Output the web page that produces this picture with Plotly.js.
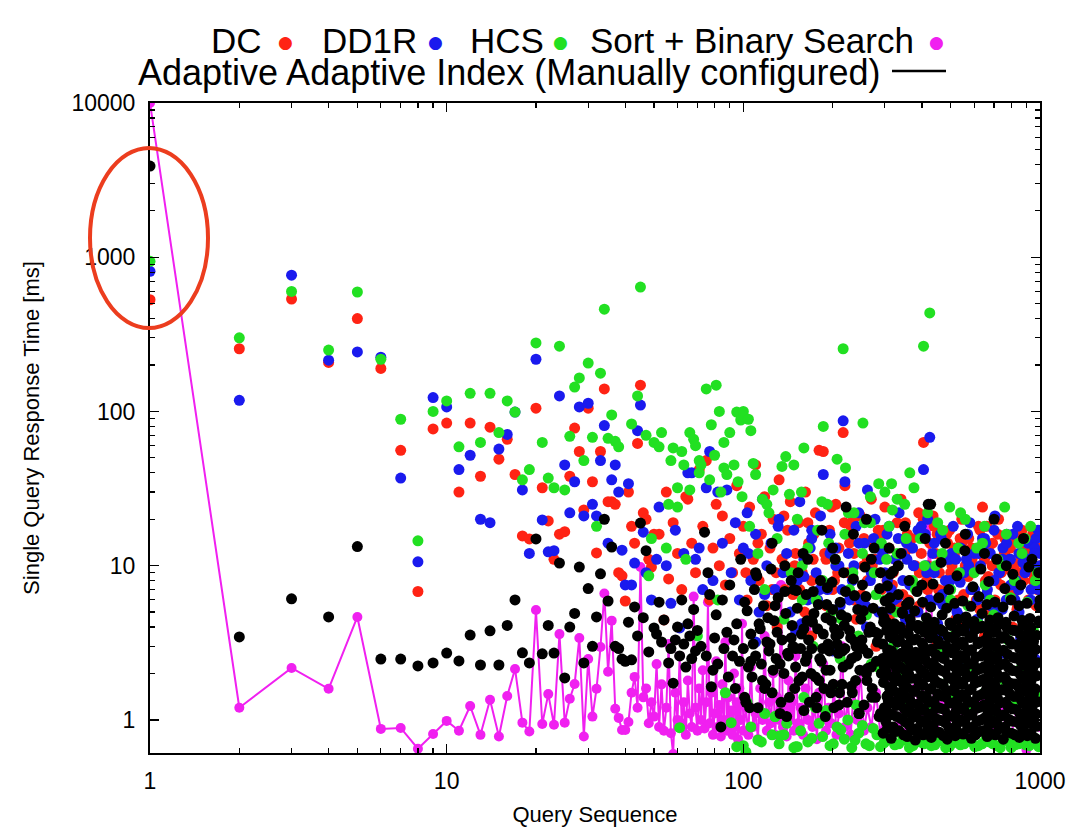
<!DOCTYPE html>
<html>
<head>
<meta charset="utf-8">
<script src="https://cdn.plot.ly/plotly-3.0.1.min.js"></script>
<style>html,body{margin:0;padding:0;background:#fff;}#chart{width:1069px;height:827px;}</style>
</head>
<body>
<div id="chart"></div>
<script>
// ---------- Tick labels ----------
const xTickVals = [1, 10, 100, 1000];
const xTickText = ['1', '10', '100', '1000'];
const yTickVals = [1, 10, 100, 1000, 10000];
const yTickText = ['1', '10', '100', '1000', '10000'];
const xMinorVals = [2,3,4,5,6,7,8,9,20,30,40,50,60,70,80,90,200,300,400,500,600,700,800,900];
const yMinorVals = [2,3,4,5,6,7,8,9,20,30,40,50,60,70,80,90,200,300,400,500,600,700,800,900,2000,3000,4000,5000,6000,7000,8000,9000];

// ---------- Series names ----------
const seriesNames = ['DC', 'DD1R', 'HCS', 'Sort + Binary Search', 'Adaptive Adaptive Index (Manually configured)'];

// ---------- Sort + Binary Search (magenta) ----------
const sortQ1 = [1,2,3,4,5,6,7,8,9,10,11,12,13,14,15,16,17,18,19,20,21,22,23,24,25,26,27,28,29,30,31,32,33,34,35,36,37,38,39,40,41,42,43,44,45,
  46,47,48,49,50,51,52,53,54,55,56,57,58,59,60,61,62,63,64,65,66,67,68,69,70,71,72,73,74,75,76,77,78,79,80,81,82,83,84,85,86,87,88,89,90,91,92,93,94,95,96,97,98,99,100];
const sortV1 = [10000,1.2,2.17,1.59,4.65,0.874,0.887,0.65,0.81,0.985,0.85,1.23,0.8,1.35,0.78,1.43,2.14,0.96,0.84,5.16,0.94,1.47,0.93,3.6,0.96,1.37,1.71,3.4,0.78,2.48,1.05,1.59,2.97,6.6,2.05,4.4,1.18,1.03,0.86,0.86,0.97,1.5,1.9,1.2,9.8,
  1.4,1.6,0.95,1.3,1.05,2.3,0.9,1.7,0.85,1.2,3.1,0.82,0.6,1.5,1.0,2.6,0.95,1.3,0.8,1.8,1.1,0.9,6.3,1.2,0.85,1.6,1.0,2.1,0.88,1.3,5.8,0.95,1.5,0.8,1.1,2.4,0.9,1.25,0.78,1.7,1.0,3.2,0.85,1.4,0.95,1.15,0.8,2.0,0.9,1.3,0.75,1.6,1.0,4.2,0.85];
const sortQ2 = [102,104,106,108,110,112,114,116,118,120,122,124,126,128,130,132,134,136,138,140,142,144,146,148,150,153,156,159,162,165,168,171,174,177,180,183,186,190,194,198,202,206,210,215,220,225,230,236,242,248,255,262,270,280,290,300,315,330,345,360,380,400,425,440,460,490,520,550,590,630,680,730,790,850,900,950,1000];
const sortV2 = [1.2,0.8,2.2,0.9,1.1,0.75,1.6,1.0,3.5,0.85,1.3,0.95,2.0,0.8,1.4,1.0,7.5,0.9,1.2,0.78,1.8,1.0,1.3,0.85,2.6,0.95,1.2,0.8,1.6,1.0,4.5,0.9,1.3,0.75,1.5,1.0,2.3,0.85,1.2,0.95,1.7,0.8,1.1,3.0,0.9,1.3,0.8,1.6,1.0,2.1,0.85,1.2,0.9,1.5,0.8,1.2,2.4,0.9,1.3,0.85,1.6,1.0,18,0.9,1.3,0.8,1.7,1.0,0.85,1.4,0.9,1.2,0.8,1.1,0.64,1.0,0.9];

// ---------- DC (red) ----------
const dcQ1 = [1,2,3,4,5,6,7,8,9,10,11,12,13,14,15,16,17,18,19,20,21,22,23,24,25,26,27,28,29,30,31,32,33,34,35,36,37,38,39,40,41,42,43,44,45,46,47,48,49,50];
const dcV1 = [530,255,535,208,400,190,56,6.8,77,84,30,84,38,79,49,66,39,15.6,14.9,105,32,19.5,11,16,16.6,38,78,55,23,105,35,12.1,55,140,26,26,25,9,8.6,5.9,30,18,14,62,148,22,20,11,9.8,16];
const dcQ2 = [52,54,55,56,58,60,62,64,65,67,69,71,73,75,77,79,81,83,85,87,90,92,95,97,100,103,105,108,110,113,115,118,120,123,126,129,132,135,138,141,144,147,150,154,158,162,166,170,175,180,186,190,195,200,205,210,217,220,225,230,236,242,248,255,262,270,278,285,292,300,310,320,330,340,350,360,370,380,390,405,415,425,440,455,470,485,500,515,530,545,560,575,590,605,620,640,655,670,690,705,720,740,760,780,800,820,840,860,880,900,920,940,960,980,1000];
const dcV2 = [16,4.45,30,8.2,19,12,7,28,27,14,9,42,18,48,6,13,25,10,21,7.5,15,9,33,12,18,6,24,11,45,8,16,28,5.5,13,20,9,36,11,7,17,26,6.5,12,19,9,30,14,8,22,56,55,11,17,7,25,13,73,33,9,18,12,6,21,15,8,27,11,17,7,24,13,9,19,27,12,6,15,10,22,63,8,14,18,7,11,16,9,13,6,20,10,15,7,12,18,24,8,13,10,6,16,9,12,7,14,10,5.5,11,8,13,6,9,12,7,10];
const dcQ3 = [130,170,240,280,350,450,550,650,750,850,950,305,325,345,368,392,418,445,474,505,538,573,610,650,692,737,785,836,890,948,995,312,336,357,380,404,430,458,488,520,553,590,628,668,712,758,808,860,915,970];
const dcV3 = [4,3.5,4.5,3,3.8,3.2,4,3.5,4.2,3,3.6,8,11,6.5,13,9,7,12,5.8,10,15,8.5,6,11,14,7.5,9.5,5.2,10,8,13,4.8,5.5,16,5,20,4.2,9,14,4.5,6.5,11,17,5,8,12,4,15,6,5.5];
const dcQ4 = [102,112,125,137,149,161,173,188,203,219,236,254,272,291];
const dcV4 = [9,14,7,21,10,5,16,12,8,19,6,10,14,9];
const dcQ5 = [155,172,190,208,228,250,272,296,318,342,366,392,420,450,482,515,550,588,628,670,715,762,812,866,922,980,165,198,235,262,288,352,398,436,496,545,605,662,725,795,870,945];
const dcV5 = [7,11,5.5,9,14,6.5,10,17,7.5,12,8,5.5,10,16,7,12,9,13,5.2,8.5,11,15,6.5,9,12,8,19,24,20,11,15,19,12,21,17,14,9.5,18,20,13,17,16];

// ---------- DD1R (blue) ----------
const ddQ1 = [1,2,3,4,5,6,7,8,9,10,11,12,13,14,15,16,17,18,19,20,21,22,23,24,25,26,27,28,29,30,31,32,33,34,35,36,37,38,39,40,41,42,43,44,45,46,47,49];
const ddV1 = [810,118,765,215,243,225,37,10.6,123,107,42,52,20,19,57,71,99,31,12,218,19.8,12.3,12.5,126,45,22,35,107,21,113,25,21,48,81,14,36,45,30,12.6,7.5,34,7.5,10.4,75,110,16.5,9,6];
const ddQ2 = [51,52,55,57,59,61,63,65,67,69,71,73,75,77,79,82,85,88,91,94,97,100,103,106,110,113,116,120,124,128,132,136,140,144,148,152,155,160,165,170,176,182,186,192,198,205,212,217,220,226,233,240,248,256,262,270,278,286,295,305,315,325,335,345,355,365,375,388,405,415,425,435,450,465,480,495,510,525,540,555,570,585,600,615,630,650,665,680,700,715,730,750,770,790,810,830,850,870,890,910,930,950,970,990,1000];
const ddV2 = [11,24,10,5.7,17,3.95,12,40,40,11,13,7,32,55,8,30,14,31,9,19,6,13,22,8,16,5,27,10,14,7,20,9,12,5,17,8,26,11,6,15,9,21,39,7,13,10,5.5,87,35,12,8,18,6,14,31,9,20,5,12,16,7,11,22,8,14,5,10,17,42,9,68,12,6,15,8,11,18,5,13,9,16,7,12,4.5,10,15,7,12,17,5,9,13,6,11,16,8,5,12,9,14,6,10,15,7,12];
const ddQ3 = [110,150,200,260,320,380,460,560,660,760,860,960,300,322,342,364,388,412,440,468,498,530,565,602,640,682,726,773,823,876,933,985,315,333,352,375,398,424,452,482,512,546,582,620,660,703,749,797,849,903,960];
const ddV3 = [3.2,3.8,2.8,4,3,2.6,3.5,2.4,3.2,2.7,3.4,2.5,9,6,12,7.5,5,10,14,6.5,8,4.8,11,7,13,5.5,9,16,6,10.5,7,8.5,5.2,15,4.5,10,18,6,4.2,11,5.6,9,4,12,6.5,4.6,11,7.5,12,4.4,13];
const ddQ4 = [104,118,131,143,157,168,181,196,210,228,245,268,288];
const ddV4 = [12,6.5,18,9,4.2,13,7,16,10,6,14,8,11];
const ddQ5 = [160,178,196,215,236,258,282,306,330,356,382,410,440,470,503,538,575,615,656,700,746,795,846,900,958,1000,170,205,245,275,310,372,418,462,520,580,640,705,772,840,915,985];
const ddV5 = [8.5,6,12,7,10,5.5,13,8,6.2,11,7.2,16,9,5.6,12,7.8,10,6,14,8,5.2,11,7,9.5,12,10,17,13,22,15,18,13,20,16,11,19,15,21,14,18,11,17];

// ---------- HCS (green) ----------
const hcsQ1 = [1,2,3,4,5,6,7,8,9,10,11,12,13,14,15,16,17,18,19,20,21,22,23,24,25,26,27,28,29,30,31,32,33,34,35,36,37,38,42,44,45,47,48,49,50,52,55,56,58,60,62,64,66,68,70,71];
const hcsV1 = [940,300,600,250,595,218,89,14.5,100,117,59,131,63,131,73,117,99,36,42,278,63,37,32,265,31,69,144,165,48,206,68,18,177,460,67,95,64,59,83,126,640,70,8.6,15,63,59,13,25,58,24,55,11,73,66,3.5,40];
const hcsQ2 = [61,75,78,81,82,83,86,87,90,91,95,95,98,100,102,104,105,106,108,110,112,116,118,120,122,126,128,130,133,135,137,139,143,145,148,150,152,157,158,160,165,172,178,185,186,192,198,204,207,212,217,220,221,228,236,244,252,253,260,268,276,284,286,292,300,300,316,330];
const hcsV2 = [0.89,140,82,148,6,100,63,1.5,73,0.96,99,0.67,88,100,0.62,89,18,75,46,39,12,27,7,25,22,31,1.05,15,0.79,44,4.5,51,29,9,45,0.67,20,30,6,58,13,3,17,8,80,25,5,11,49,2.5,255,16,43,7,22,3.5,12,84,4.8,19,9,2.2,34,14,30,6,34,27];
const hcsQ3 = [310,330,350,364,372,395,405,418,425,445,470,496,500,530,560,600,640,680,720,770,820,870,930,980,320,360,400,450,510,570,620,700,780,850,950];
const hcsV3 = [18,12,25,40,8,15,265,22,435,10,17,24,7,13,20,9,14,6,11,16,8,12,18,9,3,2.4,4,2.8,3.5,2.2,4.2,2.6,3.3,2.1,3.8];
const hcsQ4 = [53,57,60,63,66,69,71,72,77,80,84,86,88,93,96,99];
const hcsV4 = [73,48,32,45,31,60,48,45,36,52,30,43,39,45,35,28];
const hcsQ5 = [158,176,194,214,234,256,280,304,328,354,380,408,437,468,500,535,572,612,654,698,745,795,848,905,965,184,226,268,318,376,452,540,650,760,890];
const hcsV5 = [10,6,14,4.5,9,19,6.5,11,5,15,7,10,4.2,12,6,9,5.5,13,7.5,4.8,10,6.2,14,5.8,8,26,22,28,23,32,19,22,18,24,15];
const hcsLowQ = [100,106,112,118,125,132,140,148,156,165,175,185,196,207,219,232,245,259,274,290,306,324,343,363,384,406,430,455,481,509,539,570,603,638,675,714,756,800,846,895,947,990];
const hcsLowV = [0.68,0.9,0.74,1.1,0.8,0.7,0.95,0.66,0.85,0.72,1.2,0.78,0.68,0.9,0.75,0.66,0.82,0.7,0.88,0.67,0.74,0.69,0.8,0.66,0.72,0.7,0.68,0.77,0.66,0.71,0.69,0.74,0.67,0.7,0.72,0.68,0.75,0.66,0.7,0.69,0.73,0.67];
const hcsLow2Q = [103,115,128,137,152,160,170,180,190,201,213,225,238,252,266,282,298,315,334,353,373,395,418,442,468,495,524,555,587,620,656,694,735,778,823,870,920,970];
const hcsLow2V = [1.3,0.72,1.05,0.8,0.67,1.4,0.76,0.95,1.15,0.7,0.86,1.0,0.74,0.92,0.68,0.8,0.71,0.78,0.7,0.74,0.68,0.72,0.76,0.69,0.73,0.67,0.75,0.7,0.72,0.68,0.74,0.7,0.66,0.73,0.69,0.71,0.68,0.74];
const hcsMidQ = [210,240,270,300,330,360,395,430,470,510,555,600,650,700,760,820,880,940,990];
const hcsMidV = [1.6,1.25,2.3,1.1,1.9,1.3,2.6,1.15,1.7,1.35,2.1,1.2,1.5,1.05,1.8,1.25,1.6,1.1,1.4];

// ---------- Adaptive Adaptive Index (black) ----------
const adaQ1 = [1,2,3,4,5,6,7,8,9,10,11,12,13,14,15,16,17,18,19,20,21,22,23,24,25,26,27,28,29,30,31,32,33,34,35,36,37,38,39,40,41,42,43,44,45];
const adaV1 = [3900,3.45,6.1,4.65,13.3,2.48,2.48,2.24,2.34,2.71,2.41,3.55,2.27,3.78,2.27,4.1,6.0,2.72,2.34,14.9,2.68,4.1,2.71,10.4,1.87,4.0,4.9,9.8,2.34,7.1,3.0,4.65,8.85,20,5.9,13.2,3.0,2.9,2.48,2.4,4.3,2.45,5.4,3.5,18.9];
const adaQ2 = [46,47,48,50,51,52,53,54,56,57, 58,59,60,61,62,63,64,65,66,67, 68,69,70,72,74,75,76,77,78,79, 80,81,82,84,85,86,88,89,90,92,
  93,94,95,97,98,100,101,103,104,106, 107,109,110,112,114,115,117,119,120,122, 124,125,127,129,131,133,135,137,139,141, 143,145,147,150,152,154,157,159,162,164,
  167,170,172,175,178,181,184,187,190,193, 196,199,202,205,209,212,215,219,222,226, 230,233,237,241,245,249,253,257,261,265, 270,274,279,283,288,292,297,302,307,312,
  317,322,327,333,338,344,350,356,362,368, 374,380,387,394,400,407,414,421,428,436];
const adaV2 = [4.6,12.5,2.76,3.95,3.6,5.8,3.2,4.45,2.34,2.9, 1.73,3.3,4,2.6,6,3.1,2.2,4.2,3.5,2.5, 5.2,2.8,3.8,3,16.5,2.6,9,6.5,1.64,2.1, 3.4,4.8,2.3,0.9,6,2.9,3.7,1.9,7.5,2.6,
  3.3,1.6,4.2,2.4,11,2.9,1.4,5.1,2.2,3.6, 1.9,7,2.6,1.2,3.9,2.3,5.5,1.7,3.2,2.8, 9.5,1.5,4.4,2.5,6.2,1.1,3.3,2,4.9,2.7, 1.4,8,3,2.2,5.3,1.8,3.6,12,2.4,4.4,
  1.3,2.9,6.8,1.9,3.9,2.5,17,1.6,4.6,3.1, 2.1,7.8,1.2,3.5,2.7,5.8,1.7,4.1,24,2.3, 3.4,1.5,6.4,2.6,1.1,4.5,2.9,9.8,1.8,3.7, 2.2,5.3,1.4,3.2,7.1,2,4.3,1.2,2.8,6.2,
  1.6,3.8,2.4,10,1.3,4.9,2.7,1.9,5.8,3.3, 1.1,2.5,4.1,1.7,7.5,2.9,1.4,3.6,25,2.2];
const adaQ3 = [101,105,108,111,116,121,126,130,134,138, 142,146,149,153,156,160,163,166,169,173, 176,179,183,186,189,192,195,198,201,204, 207,211,214,217,221,224,228,232,235,239,
  243,247,251,255,259,263,268,272,276,281, 285,290,294,299,303,308,313,318,323,328, 150,160,170,180,190,200,210,220,240,260];
const adaV3 = [5.8,1.2,3.1,8.6,1.8,4.6,2.1,3.7,1.3,6.8, 2.6,4.1,1.6,9,2.9,1.15,6.5,3.3,2,4.9, 1.4,5.6,2.4,3.6,1.05,7.2,2.8,4.4,1.7,11, 3.1,1.5,4.8,2.2,6.8,1.3,3.8,2.5,8.2,1.8,
  5.2,2.1,3.3,1.25,6.3,2.7,4,1.6,13,2.4, 3.6,1.1,5,2.2,4.2,1.45,8.8,2.6,3.4,1.9, 2.9,3.9,4.4,1.8,2.1,5.2,3.6,2.9,3.0,2.0];
const adaQ4 = [102,106,113,118,123,128,133,140,145,151,158,164,171,177,185,191,197,203,210,216,223,231,238,246,254,262,271,279,287,295,110,125,138,148,165,182,200,218,235,252,270,290];
const adaV4 = [1.3,2.4,4.2,1.6,3.1,5.5,2.3,1.05,3.4,6.9,1.9,2.6,4.3,1.2,2.9,5.6,1.5,3.9,1.25,2.8,4.6,1.65,3.2,1.1,5.1,2.15,1.4,3.7,1.05,2.5,9,14,10,7,11,8,13,9,16,7.5,11,9];
const adaDenseQ = [
  296,302,299,305,297,303,300,295,304,298,301,306,
  315,320,317,322,314,319,321,316,318,323,313,320,
  335,340,337,342,334,339,341,336,338,343,333,340,
  357,362,359,364,356,361,363,358,360,365,355,362,
  380,385,382,387,379,384,386,381,383,388,378,385,
  404,410,407,413,403,409,411,405,408,414,402,410,
  430,436,433,439,429,435,437,431,434,440,428,436,
  458,464,461,467,457,463,465,459,462,468,456,464,
  487,493,490,496,486,492,494,488,491,497,485,493,
  518,525,521,528,517,524,526,519,523,529,516,525,
  551,558,554,562,550,557,560,552,556,563,549,558,
  587,594,590,598,586,593,596,588,592,599,585,594,
  624,632,628,636,623,631,634,626,630,638,622,632,
  664,672,668,677,663,671,674,666,670,678,662,672,
  707,715,711,720,706,714,717,709,713,722,705,715,
  752,761,757,766,751,760,763,754,759,768,750,761,
  801,810,806,816,800,809,813,803,808,818,799,810,
  852,862,857,868,851,861,865,854,860,870,850,862,
  906,917,912,923,905,916,920,908,915,925,904,917,
  965,976,971,983,964,975,980,967,974,990,995,1000];
const adaDenseV = [
  0.82,0.98,1.2,1.42,1.75,2.05,2.5,3.1,3.8,4.6,5.9,7.4,
  0.76,0.9,1.08,1.3,1.58,1.9,2.3,2.8,3.4,4.2,5.3,9.2,
  0.85,1.02,1.25,1.5,1.82,2.2,2.7,3.3,4.0,5.0,6.5,12,
  0.78,0.93,1.12,1.35,1.62,1.98,2.4,2.95,3.6,4.5,5.6,8.0,
  0.74,0.88,1.05,1.27,1.53,1.85,2.25,2.75,3.35,4.1,5.1,6.8,
  0.8,0.96,1.15,1.38,1.68,2.0,2.45,3.0,3.7,4.6,5.8,15,
  0.77,0.92,1.1,1.32,1.6,1.93,2.35,2.88,3.5,4.3,5.4,7.6,
  0.83,0.99,1.19,1.43,1.73,2.1,2.55,3.1,3.85,4.8,6.2,10.5,
  0.75,0.89,1.07,1.29,1.55,1.88,2.28,2.8,3.45,4.25,5.3,7.0,
  0.79,0.94,1.13,1.36,1.64,1.99,2.42,2.96,3.65,4.5,5.7,8.6,
  0.81,0.97,1.16,1.4,1.7,2.06,2.5,3.05,3.75,4.65,5.9,12.5,
  0.76,0.9,1.09,1.31,1.58,1.92,2.33,2.85,3.5,4.35,5.45,7.3,
  0.84,1.0,1.21,1.46,1.77,2.15,2.6,3.2,3.95,4.9,6.3,9.5,
  0.78,0.93,1.11,1.34,1.62,1.96,2.38,2.92,3.6,4.45,5.6,7.9,
  0.8,0.95,1.14,1.37,1.66,2.02,2.46,3.0,3.7,4.6,5.8,11,
  0.75,0.9,1.08,1.3,1.57,1.9,2.31,2.83,3.48,4.3,5.4,7.1,
  0.82,0.98,1.18,1.42,1.72,2.09,2.54,3.1,3.82,4.72,6.0,8.8,
  0.77,0.92,1.1,1.33,1.61,1.95,2.37,2.9,3.57,4.42,5.5,7.5,
  0.79,0.95,1.14,1.37,1.66,2.01,2.45,3.0,3.68,4.55,5.7,9.8,
  0.76,0.91,1.09,1.31,1.59,1.93,2.35,2.87,3.53,4.37,5.45,6.0];
const adaDense2Q = [
  306,310,308,311,305,309,307,312,304,
  325,329,327,330,324,328,326,331,323,
  347,351,349,352,346,350,348,353,345,
  369,373,371,375,368,372,370,376,367,
  392,397,395,399,391,396,394,400,390,
  418,423,421,425,417,422,420,426,416,
  444,450,447,452,443,449,446,453,442,
  472,479,476,481,471,478,475,482,470,
  503,510,507,513,502,509,506,514,501,
  536,543,540,546,535,542,539,547,534,
  570,578,574,580,569,577,573,581,568,
  606,614,610,617,605,613,609,618,604,
  642,651,647,654,641,650,646,655,640,
  683,692,688,695,682,691,687,696,681,
  726,737,732,740,725,736,731,741,724,
  773,784,779,788,772,783,778,789,771,
  823,836,830,839,822,835,829,840,821,
  877,890,884,894,876,889,883,895,875,
  933,946,940,950,932,945,939,951,931];
const adaDense2V = [
  0.88,1.1,1.33,1.62,1.95,2.32,2.85,3.45,4.3,
  0.84,1.05,1.24,1.5,1.78,2.15,2.6,3.2,4.0,
  0.8,0.97,1.18,1.42,1.7,2.1,2.55,3.05,3.7,
  0.86,1.04,1.27,1.55,1.86,2.25,2.7,3.3,4.05,
  0.81,0.99,1.2,1.44,1.74,2.12,2.58,3.15,3.9,
  0.87,1.06,1.3,1.58,1.9,2.3,2.78,3.4,4.15,
  0.83,1.01,1.22,1.48,1.8,2.18,2.65,3.25,3.95,
  0.79,0.96,1.17,1.41,1.69,2.05,2.5,3.02,3.75,
  0.86,1.05,1.28,1.54,1.85,2.24,2.72,3.35,4.1,
  0.82,1.0,1.21,1.46,1.77,2.16,2.62,3.2,3.9,
  0.88,1.07,1.3,1.57,1.9,2.3,2.8,3.42,4.2,
  0.8,0.98,1.19,1.43,1.73,2.1,2.56,3.12,3.85,
  0.85,1.03,1.25,1.52,1.83,2.22,2.7,3.3,4.05,
  0.81,0.99,1.2,1.45,1.76,2.14,2.6,3.18,3.92,
  0.87,1.06,1.29,1.56,1.88,2.28,2.77,3.38,4.15,
  0.83,1.01,1.23,1.49,1.8,2.19,2.66,3.25,4.0,
  0.8,0.97,1.17,1.42,1.71,2.07,2.52,3.08,3.8,
  0.86,1.04,1.27,1.53,1.85,2.25,2.73,3.33,4.1,
  0.82,1.0,1.21,1.47,1.78,2.16,2.63,3.22,3.98];
const adaTopQ = [420,350,480,560,650,700,770,880,940,990,260,310];
const adaTopV = [25,18,14,16,12,20,10,15,11,9,20,13];

// ---------- Colours ----------
const colDC = '#ff2314', colDD = '#1a1aee', colHCS = '#22e022', colSort = '#f020f0', colAda = '#000000';

const FONT = 'Liberation Sans, Arial, Helvetica, sans-serif';
const cat = (...a) => [].concat(...a);
const MS = 11;

const traces = [
  {name: seriesNames[3], x: cat(sortQ1, sortQ2), y: cat(sortV1, sortV2), type: 'scatter', mode: 'lines+markers',
   line: {color: colSort, width: 2}, marker: {color: colSort, size: 10}},
  {name: seriesNames[0], x: cat(dcQ1, dcQ2, dcQ3, dcQ4, dcQ5), y: cat(dcV1, dcV2, dcV3, dcV4, dcV5), type: 'scatter', mode: 'markers',
   marker: {color: colDC, size: MS}},
  {name: seriesNames[1], x: cat(ddQ1, ddQ2, ddQ3, ddQ4, ddQ5), y: cat(ddV1, ddV2, ddV3, ddV4, ddV5), type: 'scatter', mode: 'markers',
   marker: {color: colDD, size: MS}},
  {name: seriesNames[2], x: cat(hcsQ1, hcsQ2, hcsQ3, hcsQ4, hcsQ5, hcsLowQ, hcsLow2Q, hcsMidQ), y: cat(hcsV1, hcsV2, hcsV3, hcsV4, hcsV5, hcsLowV, hcsLow2V, hcsMidV), type: 'scatter', mode: 'markers',
   marker: {color: colHCS, size: MS}},
  {name: seriesNames[4], x: cat(adaQ1, adaQ2, adaQ3, adaQ4, adaDenseQ, adaDense2Q, adaTopQ), y: cat(adaV1, adaV2, adaV3, adaV4, adaDenseV, adaDense2V, adaTopV), type: 'scatter', mode: 'markers',
   marker: {color: colAda, size: MS}}
];

// plot area in pixels: left 150, right 1040, top 103, bottom 753
const M = {l: 150, r: 29, t: 103, b: 74};
const PW = 1069 - M.l - M.r, PH = 827 - M.t - M.b;
const px = x => (x - M.l) / PW;
const py = y => (827 - M.b - y) / PH;

const legFont = {family: FONT, size: 35, color: '#000'};
const legFont2 = {family: FONT, size: 36, color: '#000'};
const dot = c => ({xref: 'paper', yref: 'paper', text: '●', showarrow: false, font: {family: 'DejaVu Sans', size: 17, color: c}, xanchor: 'center', yanchor: 'middle'});
const annotations = [
  {xref: 'paper', yref: 'paper', x: px(264), y: py(41), text: seriesNames[0], showarrow: false, xanchor: 'right', yanchor: 'middle', font: legFont},
  Object.assign(dot(colDC), {x: px(285), y: py(42)}),
  {xref: 'paper', yref: 'paper', x: px(419), y: py(41), text: seriesNames[1], showarrow: false, xanchor: 'right', yanchor: 'middle', font: legFont},
  Object.assign(dot(colDD), {x: px(435), y: py(42)}),
  {xref: 'paper', yref: 'paper', x: px(546), y: py(41), text: seriesNames[2], showarrow: false, xanchor: 'right', yanchor: 'middle', font: legFont},
  Object.assign(dot(colHCS), {x: px(560), y: py(42)}),
  {xref: 'paper', yref: 'paper', x: px(916), y: py(41), text: seriesNames[3], showarrow: false, xanchor: 'right', yanchor: 'middle', font: legFont},
  Object.assign(dot(colSort), {x: px(936), y: py(42)}),
  {xref: 'paper', yref: 'paper', x: px(882), y: py(72), text: seriesNames[4], showarrow: false, xanchor: 'right', yanchor: 'middle', font: legFont2}
];

const shapes = [
  {type: 'line', xref: 'paper', yref: 'paper', x0: px(892), x1: px(946), y0: py(71), y1: py(71), line: {color: '#000', width: 2.5}},
  {type: 'circle', xref: 'paper', yref: 'paper', x0: px(90), x1: px(208), y0: py(328), y1: py(148), line: {color: '#ec3d1e', width: 4}, layer: 'above'}
];

const axisCommon = {
  type: 'log', showgrid: false, zeroline: false, showline: true, linecolor: '#000', linewidth: 2,
  mirror: 'allticks', ticks: 'inside', ticklen: 9, tickwidth: 1.3, tickcolor: '#000',
  tickfont: {family: FONT, size: 23, color: '#000'}
};

const layout = {
  width: 1069, height: 827, margin: M, paper_bgcolor: '#fff', plot_bgcolor: '#fff', showlegend: false,
  font: {family: FONT, color: '#000'},
  xaxis: Object.assign({}, axisCommon, {
    range: [0, 3], tickmode: 'array', tickvals: xTickVals, ticktext: xTickText, ticklabelstandoff: 6,
    minor: {tickmode: 'array', tickvals: xMinorVals, ticks: 'inside', ticklen: 5, tickwidth: 1.2, tickcolor: '#000', showgrid: false},
    title: {text: 'Query Sequence', font: {family: FONT, size: 22, color: '#000'}, standoff: 14}
  }),
  yaxis: Object.assign({}, axisCommon, {
    range: [Math.log10(0.61), 4], tickmode: 'array', tickvals: yTickVals, ticktext: yTickText, ticklabelstandoff: 8,
    minor: {tickmode: 'array', tickvals: yMinorVals, ticks: 'inside', ticklen: 5, tickwidth: 1.2, tickcolor: '#000', showgrid: false},
    title: {text: 'Single Query Response Time [ms]', font: {family: FONT, size: 22, color: '#000'}, standoff: 26}
  }),
  annotations: annotations,
  shapes: shapes
};

Plotly.newPlot('chart', traces, layout, {displayModeBar: false, staticPlot: true});
</script>
</body>
</html>
